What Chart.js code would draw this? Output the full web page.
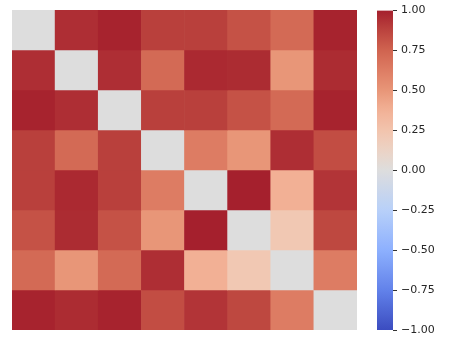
<!DOCTYPE html>
<html>
<head>
<meta charset="utf-8">
<script src="https://cdn.jsdelivr.net/npm/chart.js@4.4.1/dist/chart.umd.min.js"></script>
<style>
  html, body { margin: 0; padding: 0; background: #fff; }
  #wrap { position: relative; width: 460px; height: 354px; }
  #heat { position: absolute; left: 0; top: 0; }
  #bar { position: absolute; left: 360px; top: 0; }
</style>
</head>
<body>
<div id="wrap">
  <canvas id="heat" width="370" height="354"></canvas>
  <canvas id="bar" width="100" height="354"></canvas>
</div>
<script>
// === DATA ===
const kolom = ["0", "1", "2", "3", "4", "5", "6", "7"];
const baris0 = [0.00, 0.95, 0.99, 0.89, 0.89, 0.82, 0.72, 0.99];
const baris1 = [0.95, 0.00, 0.95, 0.72, 0.97, 0.96, 0.50, 0.96];
const baris2 = [0.99, 0.95, 0.00, 0.89, 0.89, 0.82, 0.72, 0.99];
const baris3 = [0.89, 0.72, 0.89, 0.00, 0.63, 0.50, 0.95, 0.84];
const baris4 = [0.89, 0.97, 0.89, 0.63, 0.00, 1.00, 0.38, 0.93];
const baris5 = [0.82, 0.96, 0.82, 0.50, 1.00, 0.00, 0.22, 0.86];
const baris6 = [0.72, 0.50, 0.72, 0.95, 0.38, 0.22, 0.00, 0.63];
const baris7 = [0.99, 0.96, 0.99, 0.84, 0.93, 0.86, 0.63, 0.00];
const matriks = [baris0, baris1, baris2, baris3, baris4, baris5, baris6, baris7];
const tickBar = [-1, -0.75, -0.5, -0.25, 0, 0.25, 0.5, 0.75, 1];

// === COLORMAP (coolwarm, sedikit lebih gelap di sisi merah) ===
const stops = [
  [0.0, 59, 76, 192], [0.125, 98, 130, 234], [0.25, 141, 176, 254],
  [0.375, 184, 208, 249], [0.5, 221, 221, 221], [0.5625, 236, 211, 197],
  [0.625, 242, 196, 173], [0.6875, 242, 177, 150], [0.75, 232, 150, 120],
  [0.8125, 222, 125, 100], [0.875, 208, 100, 80], [0.9375, 188, 68, 62],
  [1.0, 165, 32, 45]
];
function warna(v) {
  const t = Math.max(0, Math.min(1, (v + 1) / 2));
  for (let i = 1; i < stops.length; i++) {
    if (t <= stops[i][0]) {
      const a = stops[i - 1], b = stops[i];
      const f = (t - a[0]) / (b[0] - a[0]);
      const c = [1, 2, 3].map(k => Math.round(a[k] + (b[k] - a[k]) * f));
      return "rgb(" + c.join(",") + ")";
    }
  }
  return "rgb(165,32,45)";
}

// === HEATMAP ===
new Chart(document.getElementById("heat"), {
  type: "bar",
  data: {
    labels: kolom,
    datasets: matriks.map(function (row, r) {
      return {
        label: "baris " + r,
        data: row.map(() => 1),
        backgroundColor: row.map(warna),
        borderWidth: 0,
        barPercentage: 1,
        categoryPercentage: 1
      };
    })
  },
  options: {
    responsive: false,
    animation: false,
    layout: { padding: { left: 12, right: 13, top: 10, bottom: 24 } },
    plugins: { legend: { display: false }, tooltip: { enabled: false } },
    scales: {
      x: { stacked: true, display: false },
      y: { stacked: true, display: false, reverse: true, min: 0, max: 8 }
    }
  }
});

// === COLORBAR ===
new Chart(document.getElementById("bar"), {
  type: "bar",
  data: {
    labels: [""],
    datasets: [{
      data: [[-1, 1]],
      borderWidth: 0,
      borderSkipped: false,
      barPercentage: 1,
      categoryPercentage: 1,
      backgroundColor: function (ctx) {
        const area = ctx.chart.chartArea;
        if (!area) return "#ccc";
        const g = ctx.chart.ctx.createLinearGradient(0, area.bottom, 0, area.top);
        for (let i = 0; i <= 40; i++) g.addColorStop(i / 40, warna(-1 + i / 20));
        return g;
      }
    }]
  },
  options: {
    responsive: false,
    animation: false,
    layout: { padding: { left: 17, right: 0, top: 10, bottom: 24 } },
    plugins: { legend: { display: false }, tooltip: { enabled: false } },
    scales: {
      x: { display: false },
      y: {
        position: "right",
        min: -1, max: 1,
        afterFit: function (s) { s.width = 67; },
        afterBuildTicks: function (s) { s.ticks = tickBar.map(v => ({ value: v })); },
        border: { display: false },
        grid: { drawOnChartArea: false, drawTicks: true, tickLength: 4, color: "#333" },
        ticks: {
          padding: 4,
          color: "#262626",
          font: { family: "DejaVu Sans", size: 11 },
          callback: function (v) { return v.toFixed(2).replace("-", "\u2212"); }
        }
      }
    }
  }
});
</script>
</body>
</html>
